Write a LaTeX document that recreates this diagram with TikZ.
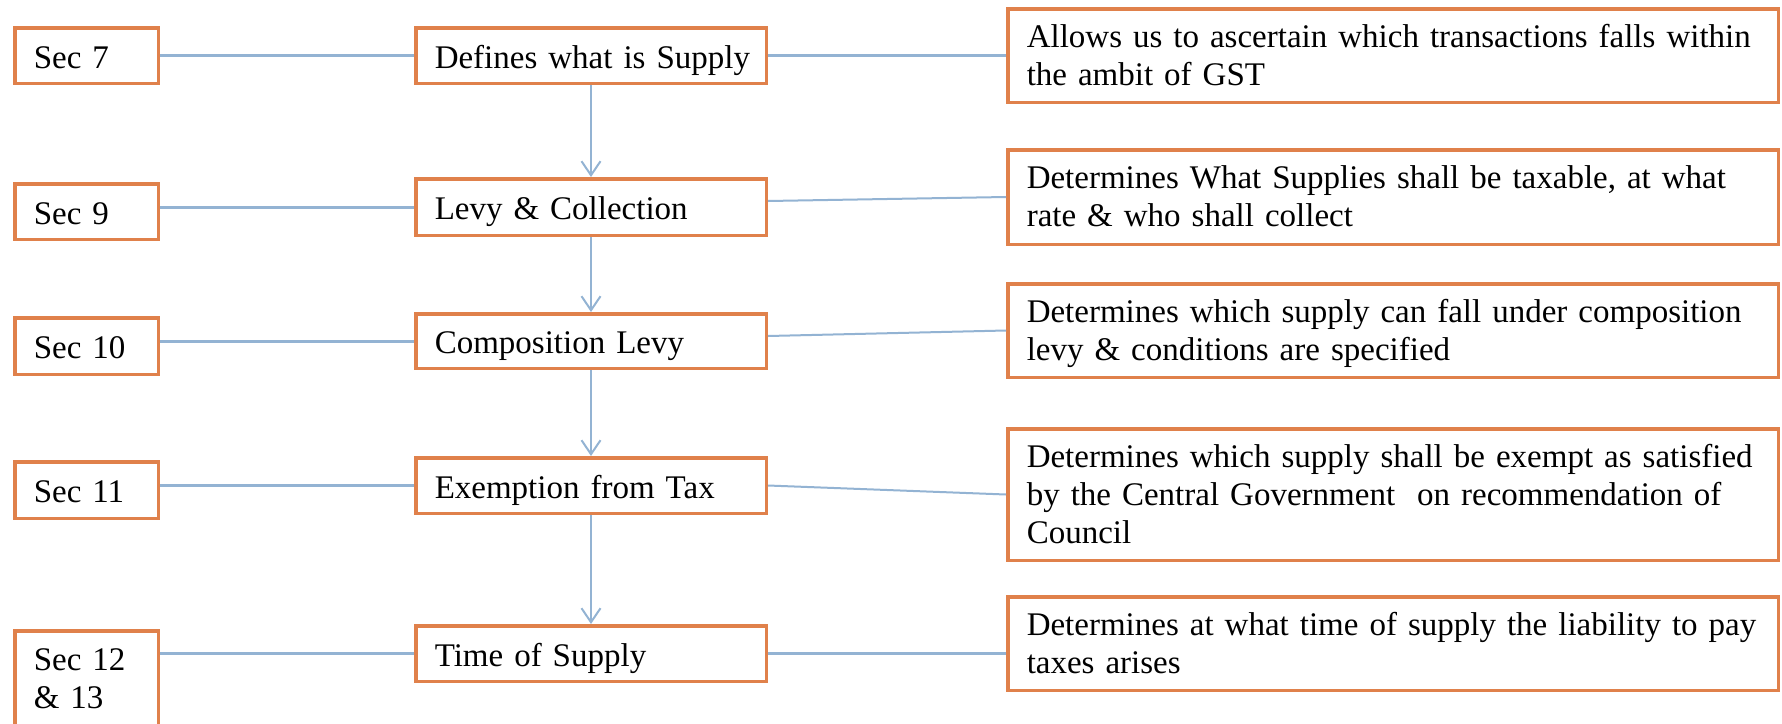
\documentclass[tikz,border=0pt]{standalone}
\usepackage{fontspec}
\setmainfont{Liberation Serif}
\usetikzlibrary{arrows.meta}
\definecolor{boxorange}{RGB}{224,129,75}
\definecolor{lineblue}{RGB}{147,179,211}
\tikzset{
  box/.style={draw=boxorange, line width=3.5pt, fill=white, rectangle,
    inner xsep=19pt, inner ysep=0pt, align=left,
    font=\fontsize{33}{38}\selectfont},
  oneline/.style={text height=25pt, text depth=0pt},
  twoline/.style={text height=21pt, text depth=38pt},
  threeline/.style={text height=22pt, text depth=76pt},
  secbox/.style={box, minimum width=143.5pt, text width=105.5pt},
  midbox/.style={box, minimum width=350.5pt, text width=312.5pt, oneline},
  descbox/.style={box, minimum width=770.5pt, text width=732.5pt},
  hlink/.style={draw=lineblue, line width=3pt},
  slink/.style={draw=lineblue, line width=2pt},
  flowarrow/.style={draw=lineblue, line width=2pt, -{Straight Barb[length=14pt,width=19pt]}}
}
\begin{document}
\begin{tikzpicture}[x=1pt,y=-1pt]
\useasboundingbox (0,0) rectangle (1782,723);
\clip (0,0) rectangle (1782,723);
% left boxes
\node[secbox, oneline, minimum height=55.5pt] (s7)  at (86.5,55.5)  {\mbox{Sec 7}};
\node[secbox, oneline, minimum height=55.5pt] (s9)  at (86.5,211.5) {\mbox{Sec 9}};
\node[secbox, oneline, minimum height=56.5pt] (s10) at (86.5,346)   {\mbox{Sec 10}};
\node[secbox, oneline, minimum height=56.5pt] (s11) at (86.5,490)   {\mbox{Sec 11}};
\node[secbox, twoline, minimum height=95.5pt] (s12) at (86.5,678.5) {\mbox{Sec 12}\\\mbox{\& 13}};
% middle boxes
\node[midbox, minimum height=55.5pt] (m1) at (591,55.5)  {\mbox{Defines what is Supply}};
\node[midbox, minimum height=56.5pt] (m2) at (591,207)   {\mbox{Levy \& Collection}};
\node[midbox, minimum height=54.5pt] (m3) at (591,341)   {\mbox{Composition Levy}};
\node[midbox, minimum height=55.5pt] (m4) at (591,485.5) {\mbox{Exemption from Tax}};
\node[midbox, minimum height=55.5pt] (m5) at (591,653.5) {\mbox{Time of Supply}};
% right boxes
\node[descbox, twoline, minimum height=93.5pt] (d1) at (1393,55.5)
  {\mbox{Allows us to ascertain which transactions falls within}\\\mbox{the ambit of GST}};
\node[descbox, twoline, minimum height=94.5pt] (d2) at (1393,197)
  {\mbox{Determines What Supplies shall be taxable, at what}\\\mbox{rate \& who shall collect}};
\node[descbox, twoline, minimum height=93.5pt] (d3) at (1393,330.5)
  {\mbox{Determines which supply can fall under composition}\\\mbox{levy \& conditions are specified}};
\node[descbox, threeline, minimum height=131.5pt] (d4) at (1393,494.5)
  {\mbox{Determines which supply shall be exempt as satisfied}\\\mbox{by the Central Government\ \ on recommendation of}\\\mbox{Council}};
\node[descbox, twoline, minimum height=93.5pt] (d5) at (1393,643.5)
  {\mbox{Determines at what time of supply the liability to pay}\\\mbox{taxes arises}};
% left-to-middle connectors
\draw[hlink] (s7.east |- m1.west) -- (m1.west);
\draw[hlink] (s9.east |- m2.west) -- (m2.west);
\draw[hlink] (s10.east |- m3.west) -- (m3.west);
\draw[hlink] (s11.east |- m4.west) -- (m4.west);
\draw[hlink] (s12.east |- m5.west) -- (m5.west);
% middle-to-right connectors
\draw[hlink] (m1.east) -- (d1.west);
\draw[slink] ([yshift=6pt]m2.east) -- (d2.west);
\draw[slink] ([yshift=5pt]m3.east) -- (d3.west);
\draw[slink] (m4.east) -- (d4.west);
\draw[hlink] (m5.east) -- (m5.east -| d5.west);
% flow arrows
\draw[flowarrow] (m1.south) -- (m2.north);
\draw[flowarrow] (m2.south) -- (m3.north);
\draw[flowarrow] (m3.south) -- (m4.north);
\draw[flowarrow] (m4.south) -- (m5.north);
\end{tikzpicture}
\end{document}
